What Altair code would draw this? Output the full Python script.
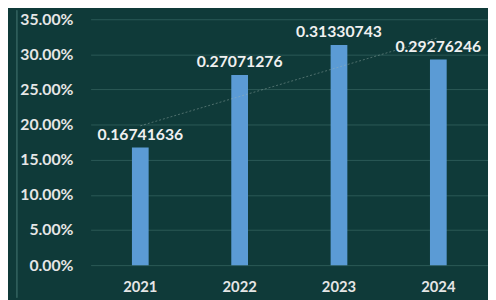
import altair as alt
import pandas as pd

years = ["2021", "2022", "2023", "2024"]
values = [0.16741636, 0.27071276, 0.31330743, 0.29276246]
labels = ["0.16741636", "0.27071276", "0.31330743", "0.29276246"]
idx = [0, 1, 2, 3]
ticks = [0, 0.05, 0.1, 0.15, 0.2, 0.25, 0.3, 0.35]

df = pd.DataFrame({"year": years, "value": values, "label": labels, "idx": idx})

FONT = "Lato"
x_enc = alt.X("year:N", title=None, scale=alt.Scale(paddingInner=0.83, paddingOuter=0.415),
              axis=alt.Axis(labelAngle=0, labelFont=FONT, labelFontSize=15, labelFontWeight="bold",
                            labelColor="#e6e6e6", domain=False, ticks=False, labelPadding=15))
y_enc = alt.Y("value:Q", title=None,
              scale=alt.Scale(domain=[0, 0.35], nice=False),
              axis=alt.Axis(format=".2%", values=ticks,
                            labelOverlap=False,
                            labelFont=FONT, labelFontSize=16, labelFontWeight="bold",
                            labelColor="#e6e6e6", domain=False, ticks=False, labelPadding=18,
                            grid=True, gridColor="#2c5a57", gridWidth=1))

base = alt.Chart(df)
bars = base.mark_bar(color="#5b9bd5", size=17).encode(x=x_enc, y=y_enc)
text = base.mark_text(dy=-5, font=FONT, fontSize=16, fontWeight="bold", color="#f0f0f0",
                      baseline="bottom").encode(x=x_enc, y=y_enc, text="label:N")

trend = alt.Chart(df).transform_regression("idx", "value").transform_calculate(
    year="['2021','2022','2023','2024'][round(datum.idx)]"
).mark_line(color="#9fb3b0", strokeWidth=1, strokeDash=[2, 2], opacity=0.45).encode(
    x=x_enc, y=y_enc)

edge = alt.Chart(df).mark_rule(color="#2f5e5b", strokeWidth=1).encode(
    x=alt.value(-75), y=alt.value(-9), y2=alt.value(283))

chart = alt.layer(bars, trend, text, edge).properties(
    width=404, height=250,
    background="#0f3a39",
    padding={"left": 84, "top": 9, "right": 0, "bottom": 33},
    autosize=alt.AutoSizeParams(type="none"),
).configure_view(stroke=None).configure_axis(labelOverlap=False)

chart.save("out.html", embed_options={"renderer": "svg", "actions": False})
